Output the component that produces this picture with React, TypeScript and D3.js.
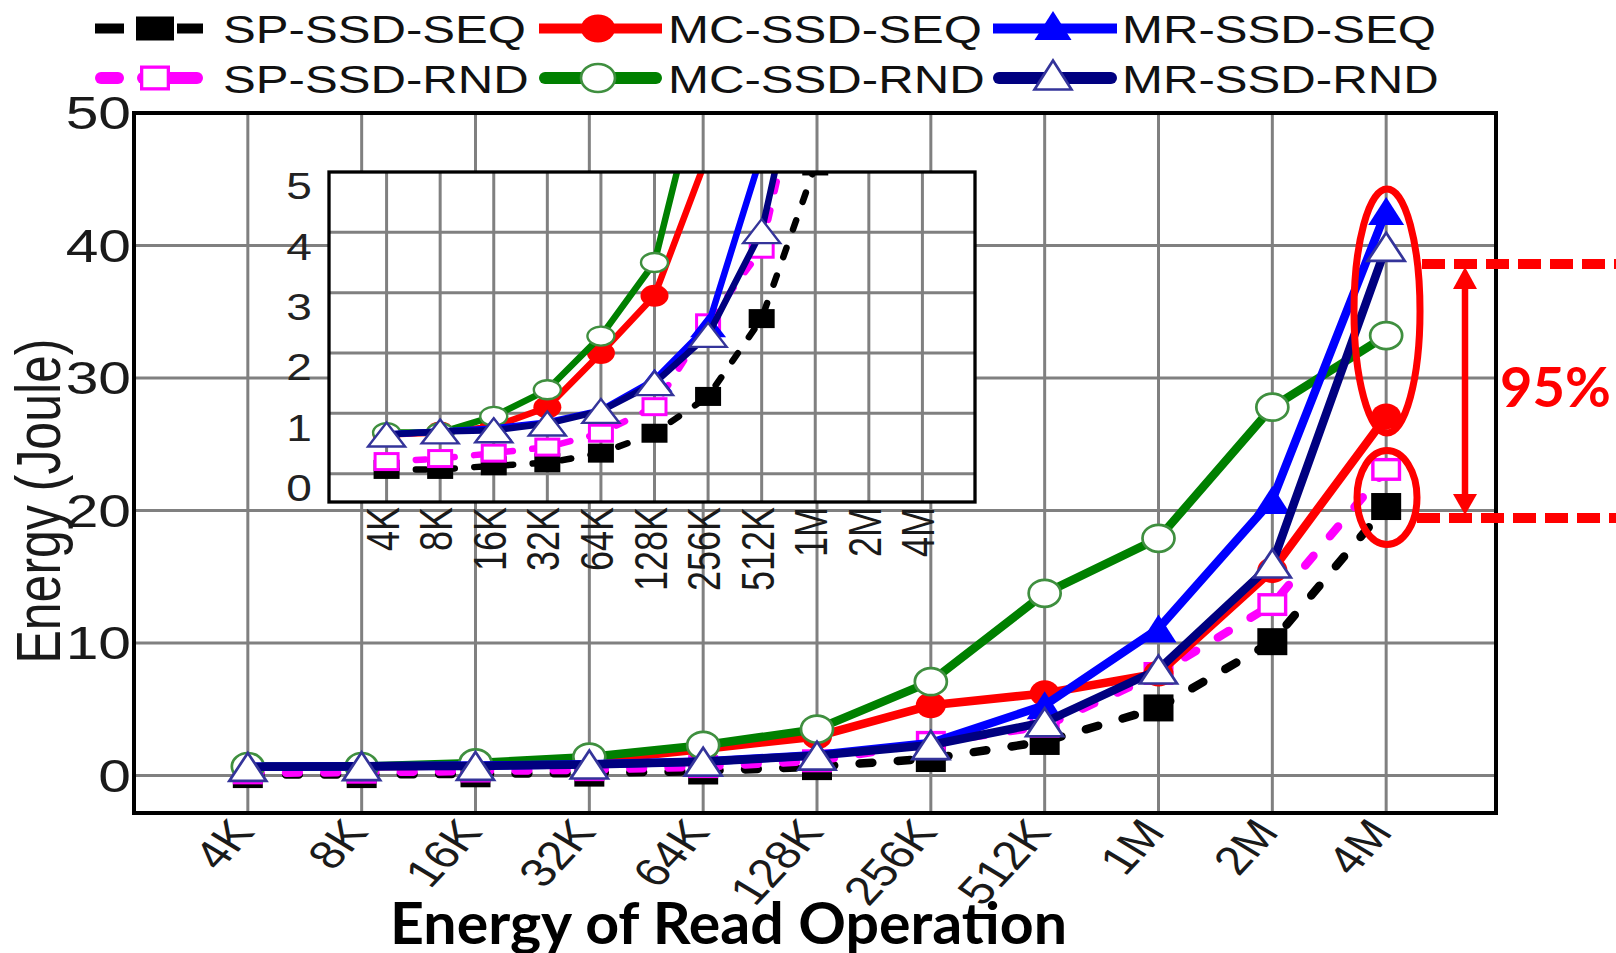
import React from "react";
import * as d3 from "d3";

// ---------- data ----------
const categories = ["4K", "8K", "16K", "32K", "64K", "128K", "256K", "512K", "1M", "2M", "4M"];
const spSsdSeq = [0.07, 0.07, 0.13, 0.18, 0.34, 0.67, 1.28, 2.57, 5.1, 10.1, 20.3];
const spSsdRnd = [0.2, 0.25, 0.34, 0.44, 0.67, 1.11, 2.5, 3.72, 7.7, 12.9, 23.1];
const mcSsdSeq = [0.65, 0.68, 0.78, 1.1, 2.0, 2.95, 5.3, 6.2, 7.7, 15.5, 27.1];
const mcSsdRnd = [0.68, 0.68, 0.95, 1.39, 2.28, 3.5, 7.08, 13.75, 17.9, 27.8, 33.2];
const mrSsdSeq = [0.65, 0.7, 0.75, 0.85, 1.05, 1.55, 2.45, 5.3, 11.1, 20.8, 42.6];
const mrSsdRnd = [0.65, 0.7, 0.72, 0.83, 1.04, 1.5, 2.3, 4.02, 8.0, 16.0, 39.9];
const mainYTicks = [0, 10, 20, 30, 40, 50];
const mainGridValues = [0, 10, 20, 30, 40];
const insetYTicks = [0, 1, 2, 3, 4, 5];
const insetGridValues = [0, 1, 2, 3, 4];
const xTitle = "Energy of Read Operation";
const yTitle = "Energy (Joule)";
const annotation = "95%";

type MarkerType = "sqF" | "sqO" | "ciF" | "ciO" | "trF" | "trO";
interface Series {
  name: string;
  values: number[];
  color: string;
  marker: MarkerType;
  dashed: boolean;
}
const series: Series[] = [
  { name: "SP-SSD-SEQ", values: spSsdSeq, color: "#000000", marker: "sqF", dashed: true },
  { name: "SP-SSD-RND", values: spSsdRnd, color: "#ff00ff", marker: "sqO", dashed: true },
  { name: "MC-SSD-SEQ", values: mcSsdSeq, color: "#ff0000", marker: "ciF", dashed: false },
  { name: "MC-SSD-RND", values: mcSsdRnd, color: "#008000", marker: "ciO", dashed: false },
  { name: "MR-SSD-SEQ", values: mrSsdSeq, color: "#0000ff", marker: "trF", dashed: false },
  { name: "MR-SSD-RND", values: mrSsdRnd, color: "#000080", marker: "trO", dashed: false },
];

// ---------- layout ----------
const W = 1616, H = 953;
const M = { left: 134, right: 1496, top: 113, bottom: 813 };
const I = { left: 329, right: 975, top: 172, bottom: 502 };
const SX = 1.25;
const ARIAL = "'Liberation Sans', Arial, sans-serif";
const LATO = "Lato, 'Open Sans', sans-serif";
const GRID = "#808080";

const xMain = d3.scalePoint<string>().domain(categories).range([134, 1500]).padding(1);
const yMain = d3.scaleLinear().domain([-2.83, 50]).range([M.bottom, M.top]);
const xIn = d3.scalePoint<string>().domain(categories).range([333, 976]).padding(1);
const yIn = d3.scaleLinear().domain([-0.47, 5]).range([I.bottom, I.top]);

const openStroke: Record<string, string> = { ciO: "#3f8f3f", trO: "#34349a" };

function Marker({ t, cx, cy, w, h, color, sw }: { t: MarkerType; cx: number; cy: number; w: number; h: number; color: string; sw: number }) {
  if (t === "sqF") return <rect x={cx - w / 2} y={cy - h / 2} width={w} height={h} fill={color} />;
  if (t === "sqO") return <rect x={cx - w / 2 + sw / 2} y={cy - h / 2 + sw / 2} width={w - sw} height={h - sw} fill="#fff" stroke={color} strokeWidth={sw} />;
  if (t === "ciF") return <ellipse cx={cx} cy={cy} rx={w / 2} ry={h / 2} fill={color} />;
  if (t === "ciO") return <ellipse cx={cx} cy={cy} rx={w / 2} ry={h / 2} fill="#fff" stroke={openStroke.ciO} strokeWidth={sw * 0.8} />;
  const p = `M${cx},${cy - h / 2}L${cx + w / 2},${cy + h / 2}L${cx - w / 2},${cy + h / 2}Z`;
  if (t === "trF") return <path d={p} fill={color} />;
  return <path d={p} fill="#fff" stroke={openStroke.trO} strokeWidth={sw * 0.8} strokeLinejoin="miter" />;
}

const mainSize: Record<MarkerType, [number, number]> = {
  sqF: [30, 27], sqO: [30, 23], ciF: [30, 26], ciO: [32, 27], trF: [36, 28], trO: [37, 28],
};
const insetSize: Record<MarkerType, [number, number]> = {
  sqF: [26, 19], sqO: [26, 19], ciF: [28, 22], ciO: [27, 19], trF: [36, 23], trO: [37, 24],
};

function Plot({ xs, ys, sizes, lw, sw }: { xs: d3.ScalePoint<string>; ys: d3.ScaleLinear<number, number>; sizes: Record<MarkerType, [number, number]>; lw: number; sw: number }) {
  return (
    <g>
      {series.map((s) => {
        const line = d3.line<number>().x((_, i) => xs(categories[i])!).y((d) => ys(d));
        return (
          <g key={s.name}>
            <path
              d={line(s.values) || ""}
              fill="none"
              stroke={s.color}
              strokeWidth={lw}
              strokeLinecap={s.dashed ? "round" : "butt"}
              strokeLinejoin="round"
              strokeDasharray={s.dashed ? `${lw * 1.5} ${lw * 3}` : undefined}
            />
            {s.values.map((v, i) => (
              <Marker key={i} t={s.marker} cx={xs(categories[i])!} cy={ys(v)} w={sizes[s.marker][0]} h={sizes[s.marker][1]} color={s.color} sw={sw} />
            ))}
          </g>
        );
      })}
    </g>
  );
}

function Legend() {
  const rows = [28.5, 78];
  const cols = [
    { line: [95, 203], mark: 155, text: 223 },
    { line: [539, 662], mark: 598, text: 668 },
    { line: [993, 1117], mark: 1053, text: 1122 },
  ];
  // legend order: column-major (SEQ top row, RND bottom row)
  const items = [
    { s: series[0], r: 0, c: 0 }, { s: series[2], r: 0, c: 1 }, { s: series[4], r: 0, c: 2 },
    { s: series[1], r: 1, c: 0 }, { s: series[3], r: 1, c: 1 }, { s: series[5], r: 1, c: 2 },
  ];
  return (
    <g>
      {items.map(({ s, r, c }) => {
        const y = rows[r];
        const col = cols[c];
        const rounded = r === 1;
        const lw = r === 0 ? 10 : 12;
        const [w, h] = s.marker === "sqF" ? [38, 24] : s.marker === "sqO" ? [30, 25] : s.marker.startsWith("ci") ? [34, 28] : [37, 29];
        return (
          <g key={s.name}>
            {s.dashed && !rounded && (
              <line x1={col.line[0]} x2={col.line[1]} y1={y} y2={y} stroke={s.color} strokeWidth={lw} strokeDasharray="29 12" />
            )}
            {s.dashed && rounded && (
              <g stroke={s.color} strokeWidth={lw} strokeLinecap="round">
                <line x1={col.line[0] + lw / 2} x2={col.line[0] + 29 - lw / 2} y1={y} y2={y} />
                <line x1={col.line[0] + 42 + lw / 2} x2={col.line[1] - lw / 2} y1={y} y2={y} />
              </g>
            )}
            {!s.dashed && (
              <line x1={col.line[0] + (rounded ? lw / 2 : 0)} x2={col.line[1] - (rounded ? lw / 2 : 0)} y1={y} y2={y} stroke={s.color} strokeWidth={lw} strokeLinecap={rounded ? "round" : "butt"} />
            )}
            <Marker t={s.marker} cx={col.mark} cy={s.marker.startsWith("tr") ? y - 3 : y} w={w} h={h} color={s.color} sw={3.3} />
            <text
              transform={`translate(${col.text},${y + 14.5}) scale(1.26,1)`}
              fontFamily={ARIAL}
              fontSize={39}
              fill="#111"
            >
              {s.name}
            </text>
          </g>
        );
      })}
    </g>
  );
}

export default function App() {
  return (
    <svg width={W} height={H} viewBox={`0 0 ${W} ${H}`} style={{ position: "absolute", left: 0, top: 0, background: "#fff" }}>
      <rect x={0} y={0} width={W} height={H} fill="#fff" />
      <defs>
        <clipPath id="insetClip">
          <rect x={I.left} y={I.top} width={I.right - I.left} height={I.bottom - I.top} />
        </clipPath>
      </defs>

      <Legend />

      {/* main grid */}
      {mainGridValues.map((v) => (
        <line key={"hg" + v} x1={M.left} x2={M.right} y1={yMain(v)} y2={yMain(v)} stroke={GRID} strokeWidth={3} />
      ))}
      {categories.map((c) => (
        <line key={"vg" + c} x1={xMain(c)} x2={xMain(c)} y1={M.top} y2={M.bottom} stroke={GRID} strokeWidth={3} />
      ))}

      {/* main data */}
      <Plot xs={xMain} ys={yMain} sizes={mainSize} lw={8.5} sw={3.4} />

      {/* main frame */}
      <rect x={M.left} y={M.top} width={M.right - M.left} height={M.bottom - M.top} fill="none" stroke="#000" strokeWidth={4} />

      {/* main y ticks */}
      {mainYTicks.map((v) => (
        <text key={"yt" + v} transform={`translate(131,${yMain(v)}) scale(${SX},1)`} textAnchor="end" dominantBaseline="central" fontFamily={ARIAL} fontSize={47} fill="#1a1a1a">
          {v}
        </text>
      ))}
      {/* main x ticks */}
      {categories.map((c) => (
        <text key={"xt" + c} transform={`translate(${xMain(c)! + 8},833) scale(${SX},1) rotate(-53)`} textAnchor="end" fontFamily={ARIAL} fontSize={40} fill="#1a1a1a">
          {c}
        </text>
      ))}
      {/* y title */}
      <text transform={`translate(60,501) scale(${SX},1) rotate(-90)`} textAnchor="middle" fontFamily={ARIAL} fontSize={50} fill="#1a1a1a">
        {yTitle}
      </text>
      {/* x title */}
      <text x={728.5} y={944} textAnchor="middle" fontFamily={LATO} fontWeight={700} fontSize={58} textLength={677} lengthAdjust="spacingAndGlyphs" fill="#000">
        {xTitle}
      </text>

      {/* inset */}
      <rect x={I.left} y={I.top} width={I.right - I.left} height={I.bottom - I.top} fill="#fff" />
      {insetGridValues.map((v) => (
        <line key={"ihg" + v} x1={I.left} x2={I.right} y1={yIn(v)} y2={yIn(v)} stroke={GRID} strokeWidth={3} />
      ))}
      {categories.map((c) => (
        <line key={"ivg" + c} x1={xIn(c)} x2={xIn(c)} y1={I.top} y2={I.bottom} stroke={GRID} strokeWidth={3} />
      ))}
      <g clipPath="url(#insetClip)">
        <Plot xs={xIn} ys={yIn} sizes={insetSize} lw={6.5} sw={3} />
      </g>
      <rect x={I.left} y={I.top} width={I.right - I.left} height={I.bottom - I.top} fill="none" stroke="#000" strokeWidth={3.3} />
      {insetYTicks.map((v) => (
        <text key={"iyt" + v} transform={`translate(299,${yIn(v) + 15}) scale(1.28,1)`} textAnchor="middle" dominantBaseline="central" fontFamily={ARIAL} fontSize={36} fill="#222">
          {v}
        </text>
      ))}
      {categories.map((c) => (
        <text key={"ixt" + c} transform={`translate(${xIn(c)! + 12},507) scale(1.28,1) rotate(-90)`} textAnchor="end" fontFamily={ARIAL} fontSize={36} fill="#1a1a1a">
          {c}
        </text>
      ))}

      {/* annotations */}
      <g fill="none" stroke="#ff0000">
        <ellipse cx={1387} cy={311} rx={33} ry={122} strokeWidth={7} />
        <ellipse cx={1387} cy={497.5} rx={30} ry={47} strokeWidth={7} />
        <line x1={1422} x2={W} y1={264} y2={264} strokeWidth={10} strokeDasharray="23 9" />
        <line x1={1417} x2={W} y1={518} y2={518} strokeWidth={10} strokeDasharray="23 9" />
        <line x1={1465} x2={1465} y1={284} y2={498} strokeWidth={6.5} />
      </g>
      <path d="M1465,267L1477,289L1453,289Z" fill="#ff0000" />
      <path d="M1465,515L1477,494L1453,494Z" fill="#ff0000" />
      <text x={1500} y={407} fontFamily={LATO} fontWeight={700} fontSize={56} fill="#ff0000">
        {annotation}
      </text>
    </svg>
  );
}
